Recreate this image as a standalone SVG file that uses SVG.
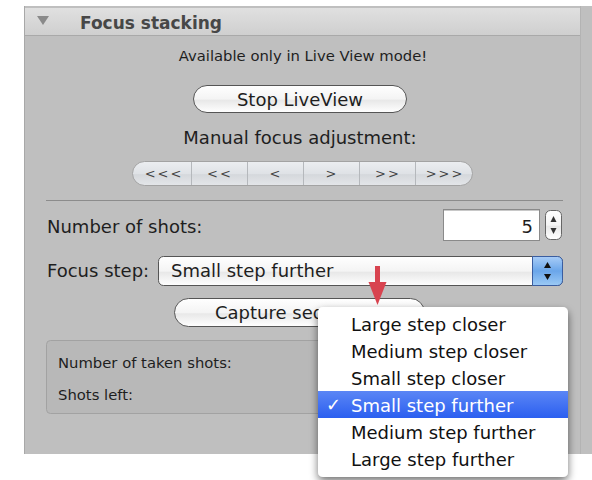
<svg xmlns="http://www.w3.org/2000/svg" width="592" height="480" viewBox="0 0 592 480">
  <defs>
    <style>
      text { font-family: "DejaVu Sans", "Liberation Sans", sans-serif; fill: #1e1e1e; }
      .lbl { font-size: 18px; }
      .sm { font-size: 14.8px; }
      .seg { font-size: 13px; fill: #444; letter-spacing: 2px; }
      .item { font-size: 18px; fill: #111; }
      .btn { fill: url(#btnGrad); stroke: #555; stroke-width: 1; }
      .sep { stroke: #8c8c8c; stroke-width: 1; }
    </style>
    <linearGradient id="hdrGrad" x1="0" y1="0" x2="0" y2="1">
      <stop offset="0" stop-color="#e0e0e0"/>
      <stop offset="1" stop-color="#cfcfcf"/>
    </linearGradient>
    <linearGradient id="btnGrad" x1="0" y1="0" x2="0" y2="1">
      <stop offset="0" stop-color="#ffffff"/>
      <stop offset="0.5" stop-color="#f4f4f4"/>
      <stop offset="0.55" stop-color="#e8e8e8"/>
      <stop offset="1" stop-color="#ffffff"/>
    </linearGradient>
    <linearGradient id="segGrad" x1="0" y1="0" x2="0" y2="1">
      <stop offset="0" stop-color="#eceef1"/>
      <stop offset="0.5" stop-color="#dfe2e6"/>
      <stop offset="0.55" stop-color="#d5d8dc"/>
      <stop offset="1" stop-color="#e4e6e9"/>
    </linearGradient>
    <linearGradient id="blueGrad" x1="0" y1="0" x2="0" y2="1">
      <stop offset="0" stop-color="#a9cdf7"/>
      <stop offset="0.5" stop-color="#6aa6ea"/>
      <stop offset="1" stop-color="#9ccaf5"/>
    </linearGradient>
    <linearGradient id="selGrad" x1="0" y1="0" x2="0" y2="1">
      <stop offset="0" stop-color="#5b86f5"/>
      <stop offset="1" stop-color="#2b5ff0"/>
    </linearGradient>
    <filter id="menuShadow" x="-20%" y="-20%" width="140%" height="150%">
      <feGaussianBlur in="SourceAlpha" stdDeviation="4"/>
      <feOffset dx="0" dy="4" result="b"/>
      <feComponentTransfer><feFuncA type="linear" slope="0.55"/></feComponentTransfer>
      <feMerge><feMergeNode/><feMergeNode in="SourceGraphic"/></feMerge>
    </filter>
  </defs>

  <rect width="592" height="480" fill="#ffffff"/>

  <!-- panel body -->
  <g id="panel">
    <rect x="24" y="6" width="568" height="448" fill="#bfbfbf"/>
    <line x1="24.5" y1="6" x2="24.5" y2="454" stroke="#a8a8a8"/>
    <line x1="580.5" y1="6" x2="580.5" y2="454" stroke="#b3b3b3"/>
    <rect x="25" y="8" width="555" height="27" fill="url(#hdrGrad)"/>
    <line x1="25" y1="35.5" x2="580" y2="35.5" stroke="#a9a9a9"/>
    <polygon points="37,16 49,16 43,25" fill="#8a8a8a"/>
    <text x="80" y="29" font-size="17" font-weight="bold" style="fill:#474747">Focus stacking</text>
  </g>

  <g id="notice">
    <text class="sm" x="303" y="61" text-anchor="middle">Available only in Live View mode!</text>
  </g>

  <g id="stop-liveview">
    <rect class="btn" x="193.5" y="85.5" width="213" height="27" rx="13.5"/>
    <text class="lbl" x="300" y="106" text-anchor="middle">Stop LiveView</text>
  </g>

  <g id="manual-focus">
    <text class="lbl" x="300" y="144" text-anchor="middle">Manual focus adjustment:</text>
    <rect x="132.5" y="161.5" width="340" height="24" rx="12" fill="url(#segGrad)" stroke="#a3a3a3"/>
    <g stroke="#b5b8bc">
      <line x1="191.5" y1="162" x2="191.5" y2="185"/>
      <line x1="247.5" y1="162" x2="247.5" y2="185"/>
      <line x1="303.5" y1="162" x2="303.5" y2="185"/>
      <line x1="359.5" y1="162" x2="359.5" y2="185"/>
      <line x1="415.5" y1="162" x2="415.5" y2="185"/>
    </g>
    <text class="seg" x="164" y="178" text-anchor="middle">&lt;&lt;&lt;</text>
    <text class="seg" x="220" y="178" text-anchor="middle">&lt;&lt;</text>
    <text class="seg" x="276" y="178" text-anchor="middle">&lt;</text>
    <text class="seg" x="332" y="178" text-anchor="middle">&gt;</text>
    <text class="seg" x="388" y="178" text-anchor="middle">&gt;&gt;</text>
    <text class="seg" x="445" y="178" text-anchor="middle">&gt;&gt;&gt;</text>
  </g>

  <line class="sep" x1="46" y1="200.5" x2="563" y2="200.5"/>

  <g id="shots-count">
    <text class="lbl" x="47" y="233">Number of shots:</text>
    <rect x="443.5" y="209.5" width="96" height="31" fill="#ffffff" stroke="#8a8a8a"/>
    <line x1="444" y1="210.5" x2="539" y2="210.5" stroke="#c8c8c8"/>
    <text class="lbl" x="533" y="233" text-anchor="end">5</text>
    <rect x="545.5" y="210.5" width="16" height="29" rx="5" fill="url(#btnGrad)" stroke="#666"/>
    <polygon points="553.5,216 550.5,222 556.5,222" fill="#333"/>
    <polygon points="553.5,234 550.5,228 556.5,228" fill="#333"/>
  </g>

  <g id="focus-step">
    <text class="lbl" x="47" y="277">Focus step:</text>
    <rect class="btn" x="158.5" y="256.5" width="404" height="29" rx="5"/>
    <path d="M532.5,256.5 H557.5 A5,5 0 0 1 562.5,261.5 V280.5 A5,5 0 0 1 557.5,285.5 H532.5 Z" fill="url(#blueGrad)" stroke="#3a5da0"/>
    <polygon points="547.5,262 544,268 551,268" fill="#111"/>
    <polygon points="547.5,280 544,274 551,274" fill="#111"/>
    <text class="lbl" x="171" y="277">Small step further</text>
  </g>

  <g id="capture">
    <rect class="btn" x="174.5" y="298.5" width="250" height="28" rx="14"/>
    <text class="lbl" x="297" y="319" text-anchor="middle">Capture sequence</text>
  </g>

  <g id="progress">
    <rect x="46.5" y="340.5" width="516" height="73" rx="4" fill="#b8b8b8" stroke="#a2a2a2"/>
    <text class="sm" x="58" y="368">Number of taken shots:</text>
    <text class="sm" x="58" y="400">Shots left:</text>
  </g>

  <!-- pop-up menu of focus step choices -->
  <g id="step-menu">
    <rect x="318" y="307" width="250" height="170" rx="5" fill="#ffffff" filter="url(#menuShadow)"/>
    <rect x="318" y="391" width="250" height="27" fill="url(#selGrad)"/>
    <text class="item" x="351" y="331">Large step closer</text>
    <text class="item" x="351" y="358">Medium step closer</text>
    <text class="item" x="351" y="385">Small step closer</text>
    <text class="item" x="326" y="411" style="fill:#ffffff">✓</text>
    <text class="item" x="351" y="412" style="fill:#ffffff">Small step further</text>
    <text class="item" x="351" y="439">Medium step further</text>
    <text class="item" x="351" y="466">Large step further</text>
  </g>

  <g id="connectors">
    <rect x="375" y="266" width="5" height="18" fill="#d8434f"/>
    <polygon points="368.5,282 386.5,282 377.5,305" fill="#d8434f"/>
  </g>
</svg>
